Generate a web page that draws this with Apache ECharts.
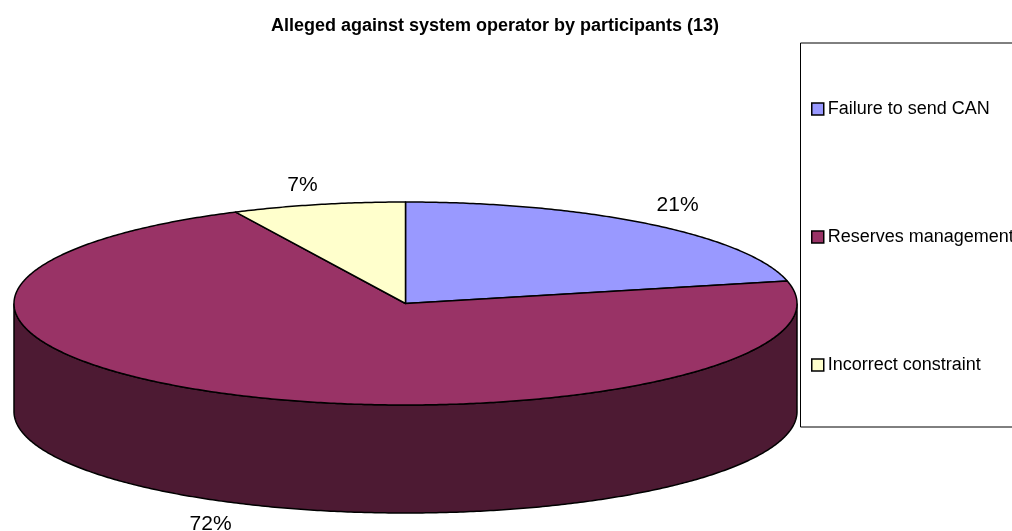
<!DOCTYPE html>
<html><head><meta charset="utf-8">
<style>html,body{margin:0;padding:0;background:#fff;overflow:hidden}#c{width:1012px;height:531px}</style>
<script src="https://cdn.jsdelivr.net/npm/echarts@6/dist/echarts.min.js"></script>
</head><body><div id="c"></div>
<script>
const titleText = 'Alleged against system operator by participants (13)';
const categories = ['Failure to send CAN', 'Reserves management', 'Incorrect constraint'];
const values = [21.43, 71.43, 7.14];
const valueLabels = ['21%', '72%', '7%'];
const topColors = ['#9999FF', '#993366', '#FFFFCC'];
const wallColors = ['#4D4D80', '#4D1A33', '#808066'];

const FONT = '"Liberation Sans", Arial, sans-serif';
const CX = 405.5, CY = 303.5, RX = 391.5, RY = 101.5, DEPTH = 108;
const LABEL_OFFSETS = [[28, -19], [-25, 21], [-16, -19]];
const total = values.reduce((a, b) => a + b, 0);
const pt = (deg, dy) => {
  const r = deg * Math.PI / 180;
  return [CX + RX * Math.sin(r), CY - RY * Math.cos(r) + (dy || 0)];
};
const arc = (a, b, dy) => {
  const n = Math.max(2, Math.ceil(Math.abs(b - a) * 2));
  const out = [];
  for (let i = 0; i <= n; i++) out.push(pt(a + (b - a) * i / n, dy));
  return out;
};

function makeRender(idx) {
  return function (params, api) {
    const v = api.value(0);
    const before = values.slice(0, idx).reduce((a, b) => a + b, 0);
    const a0 = before / total * 360, a1 = a0 + v / total * 360;
    const children = [];
    const w0 = Math.max(a0, 90), w1 = Math.min(a1, 270);
    const line = { stroke: '#000', lineWidth: 1.5 };
    if (w1 > w0) {
      children.push({
        type: 'polygon',
        shape: { points: arc(w0, w1, 0).concat(arc(w1, w0, DEPTH)) },
        style: Object.assign({ fill: wallColors[idx] }, line)
      });
    }
    children.push({
      type: 'polygon',
      shape: { points: [[CX, CY]].concat(arc(a0, a1, 0)) },
      style: Object.assign({ fill: topColors[idx], lineJoin: 'round' }, line)
    });
    const mid = (a0 + a1) / 2;
    const front = Math.cos(mid * Math.PI / 180) < 0;
    const p = pt(mid, front ? DEPTH : 0);
    children.push({
      type: 'text',
      style: {
        x: p[0] + LABEL_OFFSETS[idx][0],
        y: p[1] + LABEL_OFFSETS[idx][1],
        text: valueLabels[idx],
        fill: '#000',
        font: '21px ' + FONT,
        textAlign: 'center',
        textVerticalAlign: 'middle'
      }
    });
    return { type: 'group', children };
  };
}

const chart = echarts.init(document.getElementById('c'), null, { renderer: 'canvas' });
chart.setOption({
  animation: false,
  backgroundColor: '#fff',
  title: {
    text: titleText,
    left: 490, top: 12, textAlign: 'center',
    textStyle: { fontFamily: FONT, fontSize: 18, fontWeight: 'bold', color: '#000' }
  },
  legend: {
    orient: 'vertical',
    left: 800.5, top: 43,
    padding: [57, 300, 53, 10.5],
    itemGap: 110,
    itemWidth: 12, itemHeight: 12,
    borderColor: '#000', borderWidth: 1,
    backgroundColor: '#fff',
    selectedMode: false,
    icon: 'rect',
    textStyle: { fontFamily: FONT, fontSize: 18, color: '#000', padding: [0, 0, 0, -1] },
    data: categories.map((name, i) => ({
      name,
      itemStyle: { color: topColors[i], borderColor: '#000', borderWidth: 1.5 }
    }))
  },
  series: categories.map((name, i) => ({
    type: 'custom',
    name,
    coordinateSystem: 'none',
    silent: true,
    itemStyle: { color: topColors[i] },
    renderItem: makeRender(i),
    data: [[values[i]]]
  }))
});
</script></body></html>
